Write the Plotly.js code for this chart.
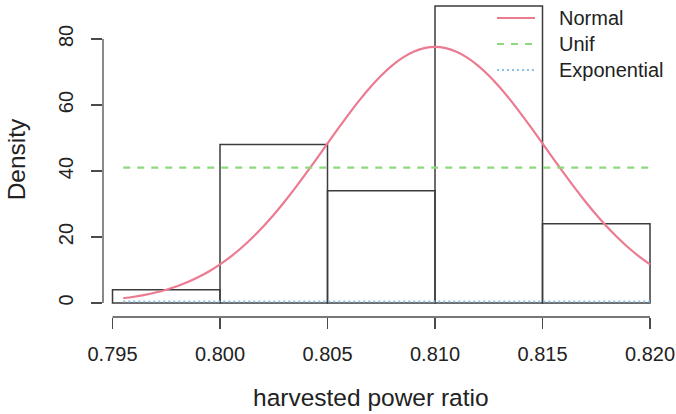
<!DOCTYPE html>
<html>
<head>
<meta charset="utf-8">
<script src="https://cdn.plot.ly/plotly-3.0.1.min.js"></script>
<style>html,body{margin:0;padding:0;background:#fff;}#chart{width:676px;height:414px;}</style>
</head>
<body>
<div id="chart"></div>
<script>
// Histogram (density scale)
const breaks = [0.795, 0.800, 0.805, 0.810, 0.815, 0.820];
const densities = [4, 48, 34, 90, 24];

// Fitted curves
const normX = [0.7955,0.796,0.7965,0.797,0.7975,0.798,0.7985,0.799,0.7995,0.800,
  0.8005,0.801,0.8015,0.802,0.8025,0.803,0.8035,0.804,0.8045,0.805,
  0.8055,0.806,0.8065,0.807,0.8075,0.808,0.8085,0.809,0.8095,0.810,
  0.8105,0.811,0.8115,0.812,0.8125,0.813,0.8135,0.814,0.8145,0.815,
  0.8155,0.816,0.8165,0.817,0.8175,0.818,0.8185,0.819,0.8195,0.820];
const normY = [1.45,1.90,2.47,3.17,4.03,5.09,6.35,7.86,9.63,11.70,
  14.06,16.75,19.77,23.11,26.76,30.70,34.88,39.27,43.77,48.35,
  52.90,57.33,61.54,65.45,68.94,71.94,74.36,76.14,77.23,77.60,
  77.23,76.14,74.36,71.94,68.94,65.45,61.54,57.33,52.90,48.35,
  43.77,39.27,34.88,30.70,26.76,23.11,19.77,16.75,14.06,11.70];
const unifX = [0.7955, 0.820];
const unifY = [41, 41];
const expX = [0.7955, 0.820];
const expY = [0.45, 0.45];

const seriesNames = ["Normal", "Unif", "Exponential"];
const xTicks = [0.795, 0.800, 0.805, 0.810, 0.815, 0.820];
const xTickText = ["0.795", "0.800", "0.805", "0.810", "0.815", "0.820"];
const yTicks = [0, 20, 40, 60, 80];
const yTickText = ["0", "20", "40", "60", "80"];
const xTitle = "harvested power ratio";
const yTitle = "Density";

const colNormal = "#EC7A90";
const colUnif = "#8ED97F";
const colExp = "#86C0EC";
const axisCol = "#4a4a4a";
const FONT = "Liberation Sans, Arial, Helvetica, sans-serif";

const mids = densities.map((d, i) => (breaks[i] + breaks[i + 1]) / 2);
const widths = densities.map((d, i) => breaks[i + 1] - breaks[i]);

const traces = [
  {type: "bar", x: mids, y: densities, width: widths,
   marker: {color: "rgba(255,255,255,0)", line: {color: "#3c3c3c", width: 1.5}},
   showlegend: false, hoverinfo: "skip"},
  {type: "scatter", mode: "lines", x: normX, y: normY, name: seriesNames[0],
   line: {color: colNormal, width: 2.2, shape: "spline"}, showlegend: false},
  {type: "scatter", mode: "lines", x: unifX, y: unifY, name: seriesNames[1],
   line: {color: colUnif, width: 2.2, dash: "7px,7px"}, showlegend: false},
  {type: "scatter", mode: "lines", x: expX, y: expY, name: seriesNames[2],
   line: {color: colExp, width: 2, dash: "2px,3px"}, showlegend: false}
];

// legend rows (paper coords)
const legRowsY = [0.9492, 0.8667, 0.7841];
const legCols = [colNormal, colUnif, colExp];
const legDash = ["solid", "7px,7px", "2px,3px"];
const shapes = [
  {type: "line", xref: "x", yref: "paper", x0: xTicks[0], x1: xTicks[xTicks.length - 1], y0: 0, y1: 0,
   line: {color: axisCol, width: 1.3}},
  {type: "line", xref: "paper", yref: "y", x0: 0, x1: 0, y0: yTicks[0], y1: yTicks[yTicks.length - 1],
   line: {color: axisCol, width: 1.3}}
];
const annotations = [
  {xref: "paper", yref: "paper", x: 0.471, y: -0.254, xanchor: "center", yanchor: "middle",
   text: xTitle, showarrow: false, font: {family: FONT, size: 24.5, color: "#222"}}
];
seriesNames.forEach((n, i) => {
  shapes.push({type: "line", xref: "paper", yref: "paper", x0: 0.6924, x1: 0.7592,
    y0: legRowsY[i], y1: legRowsY[i], line: {color: legCols[i], width: 2.2, dash: legDash[i]}});
  annotations.push({xref: "paper", yref: "paper", x: 0.7979, y: legRowsY[i], xanchor: "left", yanchor: "middle",
    text: n, showarrow: false, font: {family: FONT, size: 20, color: "#222"}});
});

const layout = {
  width: 676, height: 414,
  margin: {l: 103, r: 4, t: 2, b: 97, pad: 0},
  paper_bgcolor: "#fff", plot_bgcolor: "#fff",
  font: {family: FONT, size: 20, color: "#222"},
  showlegend: false,
  bargap: 0,
  xaxis: {range: [0.794558, 0.821023], tickvals: xTicks, ticktext: xTickText,
    showgrid: false, zeroline: false, showline: false,
    ticks: "outside", ticklen: 11, tickwidth: 1.3, tickcolor: axisCol,
    tickfont: {family: FONT, size: 20, color: "#222"}, ticklabelstandoff: 8,
    automargin: false, fixedrange: true},
  yaxis: {range: [-4.242, 91.21], tickvals: yTicks, ticktext: yTickText,
    showgrid: false, zeroline: false, showline: false,
    ticks: "outside", ticklen: 11, tickwidth: 1.3, tickcolor: axisCol, tickangle: -90,
    tickfont: {family: FONT, size: 20, color: "#222"}, ticklabelstandoff: 10,
    title: {text: yTitle, font: {family: FONT, size: 24.5, color: "#222"}, standoff: 22},
    automargin: false, fixedrange: true},
  shapes: shapes,
  annotations: annotations
};

Plotly.newPlot("chart", traces, layout, {displayModeBar: false, staticPlot: true});
</script>
</body>
</html>
